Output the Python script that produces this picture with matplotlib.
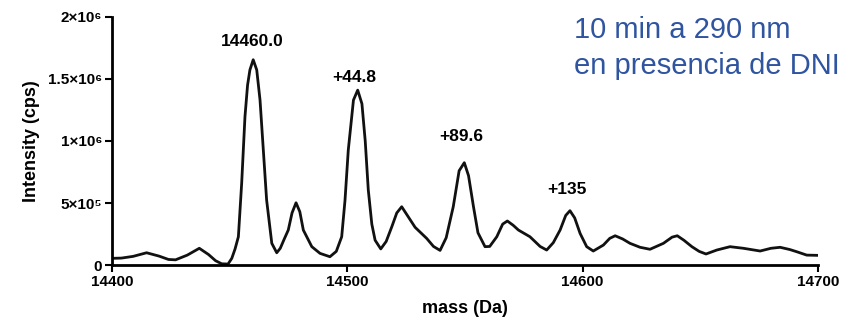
import matplotlib.pyplot as plt
from matplotlib.ticker import FixedLocator, FixedFormatter

plt.rcParams["font.family"] = ["Liberation Sans Narrow", "Liberation Sans", "DejaVu Sans"]

# deconvoluted mass spectrum
mass = [14400, 14404, 14409, 14414.7, 14420, 14424, 14427, 14432, 14437.1,
        14441, 14444, 14446.6, 14449.3, 14450.9, 14452.3, 14453.7, 14455.1,
        14456.5, 14457.6, 14458.6, 14460.0, 14461.5, 14462.9, 14464.3,
        14465.7, 14467.9, 14470, 14471.5, 14473.2, 14474.9, 14476.5, 14478.2,
        14479.8, 14481.3, 14484.9, 14488.4, 14492.6, 14495.3, 14497.6, 14499,
        14500.4, 14502.6, 14504.4, 14506.2, 14507.6, 14508.9, 14510.4,
        14511.8, 14514.2, 14516.5, 14518.9, 14521, 14523.1, 14525.5, 14528.8,
        14533.7, 14536.6, 14539.4, 14542, 14545, 14547.5, 14549.7, 14551.5,
        14553.6, 14555.5, 14558.5, 14560.5, 14563.5, 14566, 14568, 14570.5,
        14572.7, 14577.6, 14581.9, 14584.7, 14587.5, 14590.4, 14592.8,
        14594.6, 14596.6, 14598.9, 14601.7, 14604.5, 14608.8, 14611.5,
        14613.8, 14617, 14620.1, 14624.4, 14628.6, 14634.3, 14638, 14640.2,
        14643, 14646.4, 14649.5, 14652.4, 14657, 14662.6, 14668.3, 14675.4,
        14680, 14683.9, 14688, 14691, 14695.2, 14700]
intensity = [54e3, 56e3, 70e3, 99e3, 72e3, 45e3, 42e3, 80e3, 135e3,
             85e3, 35e3, 10e3, 8e3, 54e3, 130e3, 228e3, 659e3,
             1.196e6, 1.45e6, 1.573e6, 1.655e6, 1.573e6, 1.33e6, 927e3,
             524e3, 175e3, 99e3, 135e3, 210e3, 282e3, 420e3, 502e3,
             430e3, 282e3, 148e3, 94e3, 67e3, 110e3, 228e3, 520e3,
             927e3, 1.33e6, 1.41e6, 1.30e6, 1.0e6, 605e3, 330e3,
             200e3, 130e3, 190e3, 309e3, 420e3, 470e3, 400e3, 304e3,
             215e3, 150e3, 118e3, 220e3, 470e3, 760e3, 825e3, 720e3,
             470e3, 260e3, 148e3, 150e3, 228e3, 330e3, 355e3, 320e3,
             282e3, 228e3, 150e3, 121e3, 180e3, 282e3, 400e3,
             438e3, 380e3, 255e3, 148e3, 113e3, 161e3, 215e3,
             236e3, 210e3, 175e3, 143e3, 127e3, 175e3, 225e3, 236e3,
             200e3, 148e3, 110e3, 89e3, 121e3, 148e3, 135e3, 113e3,
             135e3, 143e3, 125e3, 107e3, 80e3, 78e3]

peak_labels = ["14460.0", "+44.8", "+89.6", "+135"]
label_mass = [14459.6, 14503.0, 14548.4, 14593.3]
label_height = [1.80e6, 1.51e6, 1.04e6, 6.05e5]

xticks = [14400, 14500, 14600, 14700]
yticks = [0, 5e5, 1e6, 1.5e6, 2e6]
ytick_labels = ["0", "5×10⁵", "1×10⁶", "1.5×10⁶", "2×10⁶"]

fig = plt.figure(figsize=(8.53, 3.26), dpi=100)
ax = fig.add_axes([0.1313, 0.187, 0.8277, 0.761])

ax.plot(mass, intensity, color="#111111", linewidth=2, solid_joinstyle="round")

for lab, m, h in zip(peak_labels, label_mass, label_height):
    ax.text(m, h, lab, ha="center", va="center", fontsize=12.5, fontweight="bold")

ax.set_xlim(14400, 14700)
ax.set_ylim(0, 2e6)
ax.xaxis.set_major_locator(FixedLocator(xticks))
ax.yaxis.set_major_locator(FixedLocator(yticks))
ax.yaxis.set_major_formatter(FixedFormatter(ytick_labels))
ax.tick_params(width=1.5, length=5, labelsize=11, pad=2)
for t in ax.get_xticklabels() + ax.get_yticklabels():
    t.set_fontweight("bold")

for s in ["top", "right"]:
    ax.spines[s].set_visible(False)
for s in ["left", "bottom"]:
    ax.spines[s].set_linewidth(2)

ax.set_xlabel("mass (Da)", fontsize=13, fontweight="bold", labelpad=8)
ax.set_ylabel("Intensity (cps)", fontsize=13, fontweight="bold", labelpad=6)

blue = "#2f54a0"
fig.text(0.673, 0.908, "10 min a 290 nm", fontsize=21, color=blue,
         ha="left", va="center", family=["Liberation Sans", "DejaVu Sans"])
fig.text(0.673, 0.798, "en presencia de DNI", fontsize=21, color=blue,
         ha="left", va="center", family=["Liberation Sans", "DejaVu Sans"])

fig.savefig("out.png", dpi=100)
